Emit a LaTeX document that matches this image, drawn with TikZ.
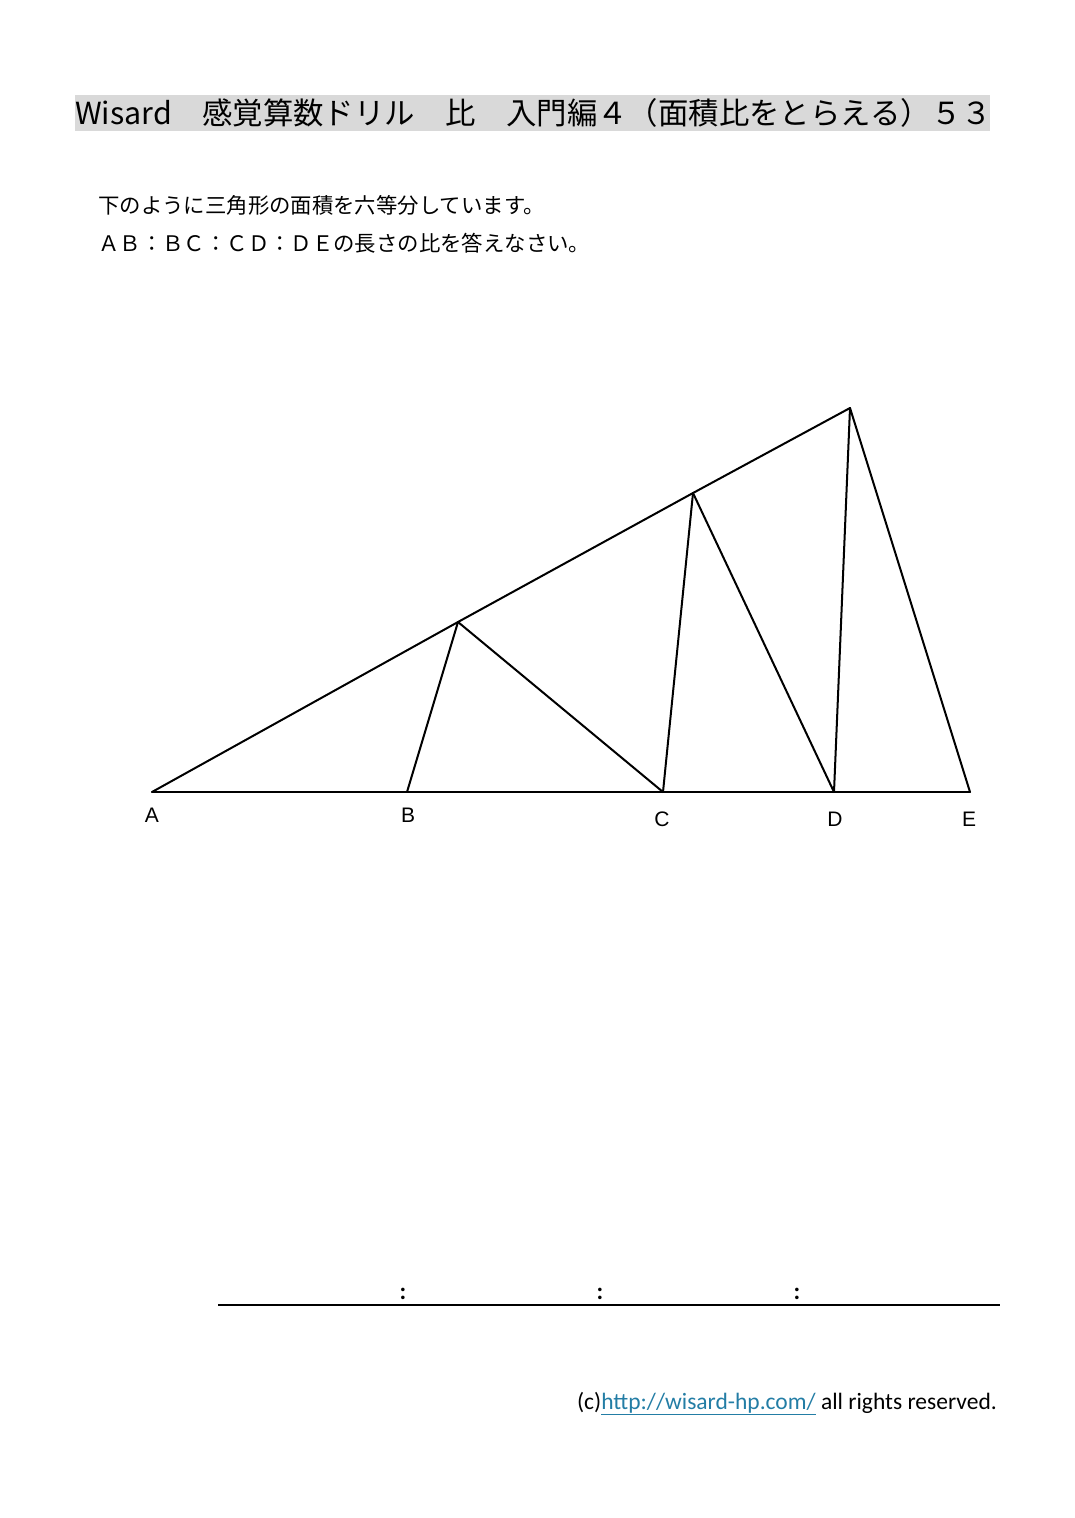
\documentclass[tikz,border=0pt]{standalone}
\usepackage{fontspec}
\newfontfamily\jp{Noto Sans CJK JP}
\newfontfamily\lab{Liberation Sans}
\newfontfamily\foot{Carlito}
\definecolor{titlegray}{RGB}{217,217,217}
\definecolor{linkblue}{RGB}{35,125,165}
\begin{document}
\begin{tikzpicture}[x=1pt,y=-1pt,
  edge/.style={line width=2pt,line join=round,line cap=round},
  ptlabel/.style={font=\lab\fontsize{21}{21}\selectfont,inner sep=0pt},
  colon/.style={font=\foot\bfseries\fontsize{24}{24}\selectfont,inner sep=0pt}]
\useasboundingbox (0,0) rectangle (1075,1518);
% title
\fill[titlegray] (75,95) rectangle (990,131);
\node[anchor=base west,inner sep=0pt,font=\jp\fontsize{30.4}{30.4}\selectfont] (title) at (75,124) {Wisard　感覚算数ドリル　比　入門編４（面積比をとらえる）５３};
% instructions
\node[anchor=base west,inner sep=0pt,font=\jp\fontsize{21.4}{21.4}\selectfont] (q1) at (98,213) {下のように三角形の面積を六等分しています。};
\node[anchor=base west,inner sep=0pt,font=\jp\fontsize{21.4}{21.4}\selectfont] (q2) at (98,251) {ＡＢ：ＢＣ：ＣＤ：ＤＥの長さの比を答えなさい。};
% points
\coordinate (A) at (152,792);
\coordinate (B) at (407,792);
\coordinate (C) at (663,792);
\coordinate (D) at (834,792);
\coordinate (E) at (970,792);
\coordinate (P) at (850,408);
\coordinate (Q1) at (458,622);
\coordinate (Q2) at (693,493);
\draw[edge] (A) -- (E);
\draw[edge] (A) -- (Q1) -- (Q2) -- (P);
\draw[edge] (P) -- (E);
\draw[edge] (B) -- (Q1);
\draw[edge] (Q1) -- (C);
\draw[edge] (C) -- (Q2);
\draw[edge] (Q2) -- (D);
\draw[edge] (D) -- (P);
% labels
\node[ptlabel] (la) at (152,815) {A};
\node[ptlabel] (lb) at (408,815) {B};
\node[ptlabel] (lc) at (662,819) {C};
\node[ptlabel] (ld) at (835,819) {D};
\node[ptlabel] (le) at (969,819) {E};
% answer line
\coordinate (L1) at (218,1305);
\coordinate (L2) at (1000,1305);
\draw[line width=1.3pt] (L1) -- (L2);
\node[colon] (c1) at (403,1294) {:};
\node[colon] (c2) at (600,1294) {:};
\node[colon] (c3) at (797,1294) {:};
% footer
\node[anchor=base east,inner sep=0pt,font=\foot\fontsize{23.5}{23.5}\selectfont] (ft) at (997,1409)
  {(c)\textcolor{linkblue}{\underline{http://wisard-hp.com/}} all rights reserved.};
\end{tikzpicture}
\end{document}
